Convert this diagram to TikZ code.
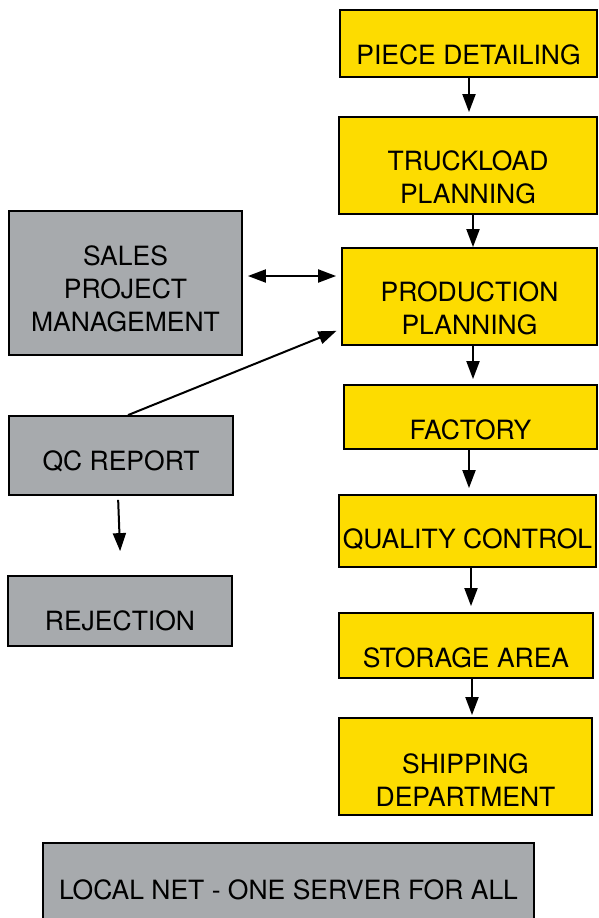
\documentclass[tikz,border=0pt]{standalone}
\usepackage{fontspec}
\setmainfont{TeX Gyre Heros}
\usepackage{tikz}
\usetikzlibrary{arrows.meta}

\definecolor{stepyellow}{HTML}{FDDC00}
\definecolor{stepgray}{HTML}{A7AAAD}

\tikzset{
  box/.style={draw=black,line width=1.8pt,minimum width=#1,inner sep=0pt},
  yellowbox/.style={box=#1,fill=stepyellow},
  graybox/.style={box=#1,fill=stepgray},
  txt/.style={font=\fontsize{26.5}{33}\selectfont,align=center,inner sep=0pt},
  arr/.style={line width=2pt,-{Triangle[length=18pt,width=13pt]}},
  dblarr/.style={line width=2pt,{Triangle[length=18pt,width=13pt]}-{Triangle[length=18pt,width=13pt]}}
}

\begin{document}
\begin{tikzpicture}[x=1pt,y=-1pt]
    \useasboundingbox (0,0) rectangle (598,918);

    % main process chain
    \node[yellowbox=257pt,minimum height=67pt,label={[txt,yshift=-11pt]center:PIECE DETAILING}] (detail) at (468.5,43.5) {};
    \node[yellowbox=258pt,minimum height=97pt,label={[txt,yshift=-12pt]center:TRUCKLOAD\\PLANNING}] (truck) at (468,165.5) {};
    \node[yellowbox=255pt,minimum height=97pt,label={[txt,yshift=-12pt]center:PRODUCTION\\PLANNING}] (prod) at (469.5,296.5) {};
    \node[yellowbox=253pt,minimum height=64pt,label={[txt,yshift=-12.5pt]center:FACTORY}] (factory) at (470.5,417) {};
    \node[yellowbox=257pt,minimum height=72pt,label={[txt,yshift=-8pt]center:QUALITY CONTROL}] (quality) at (467.5,531) {};
    \node[yellowbox=254pt,minimum height=65pt,label={[txt,yshift=-12pt]center:STORAGE AREA}] (storage) at (466,645.5) {};
    \node[yellowbox=253pt,minimum height=97pt,label={[txt,yshift=-13.5pt]center:SHIPPING\\DEPARTMENT}] (shipping) at (465.5,766.5) {};

    % side boxes
    \node[graybox=233pt,minimum height=144pt,label={[txt,yshift=-5.5pt]center:SALES\\PROJECT\\MANAGEMENT}] (sales) at (125.5,283) {};
    \node[graybox=224pt,minimum height=79pt,label={[txt,yshift=-5.5pt]center:QC REPORT}] (report) at (121,455.5) {};
    \node[graybox=224pt,minimum height=70pt,label={[txt,yshift=-10pt]center:REJECTION}] (reject) at (120,611) {};
    \node[graybox=491pt,minimum height=77pt,label={[txt,yshift=-8.5pt]center:LOCAL NET - ONE SERVER FOR ALL}] (net) at (288.5,881.5) {};

    % connectors
    \draw[arr,shorten >=4pt] ([xshift=0.5pt]detail.south) -- ([xshift=1pt]truck.north);
    \draw[arr] ([xshift=5pt]truck.south) -- ([xshift=3.5pt]prod.north);
    \draw[arr,shorten >=5pt] ([xshift=3.5pt]prod.south) -- ([xshift=2.5pt]factory.north);
    \draw[arr,shorten >=6pt] ([xshift=-1.5pt]factory.south) -- ([xshift=1.5pt]quality.north);
    \draw[arr,shorten >=6pt] ([xshift=3.5pt]quality.south) -- ([xshift=5pt]storage.north);
    \draw[arr,shorten >=2pt] ([xshift=6pt]storage.south) -- ([xshift=6.5pt]shipping.north);

    \draw[dblarr,shorten <=5pt,shorten >=5pt] ([yshift=7pt]sales.east) -- ([yshift=20.5pt]prod.west);
    \draw[arr,shorten >=5pt] ([xshift=7pt]report.north) -- ([yshift=-32.5pt]prod.west);
    \draw[arr,shorten <=4pt,shorten >=24pt] ([xshift=-3pt]report.south) -- ([xshift=1pt]reject.north);
\end{tikzpicture}
\end{document}
